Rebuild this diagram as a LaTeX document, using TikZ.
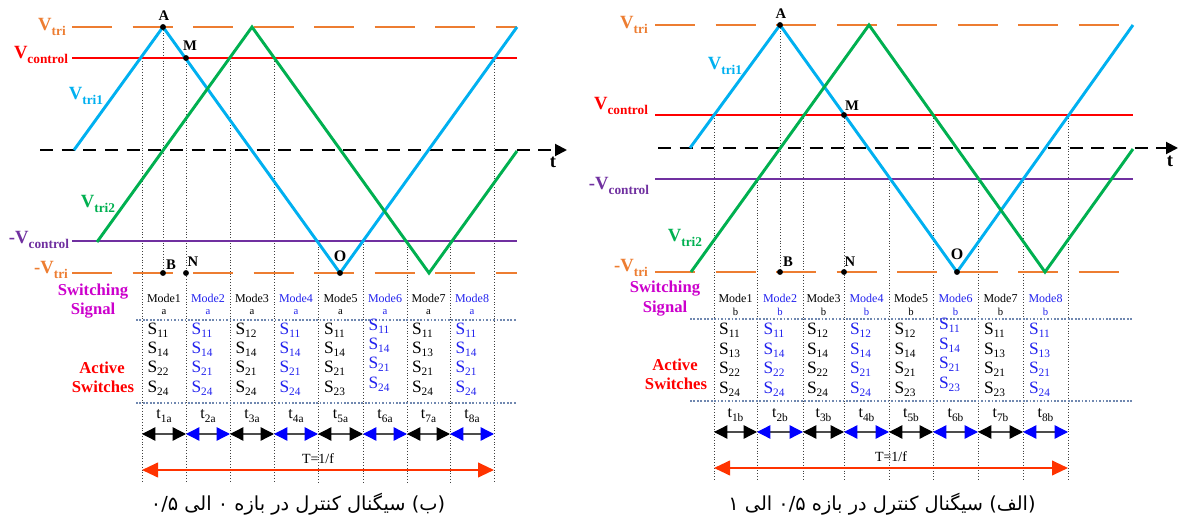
\documentclass[tikz,border=0pt]{standalone}
\usepackage{fontspec}
\setmainfont{Liberation Serif}
\newfontfamily\arabicfont[Script=Arabic]{DejaVu Sans}
\TeXXeTstate=1
\usetikzlibrary{arrows.meta}
\definecolor{ctri}{HTML}{ED7D31}
\definecolor{cred}{HTML}{FF0000}
\definecolor{cblue}{HTML}{00B0F0}
\definecolor{cgreen}{HTML}{00B050}
\definecolor{cpurple}{HTML}{7030A0}
\definecolor{cmag}{HTML}{CC00CC}
\definecolor{modeblue}{HTML}{2222EE}
\definecolor{carrow}{HTML}{FF3300}
\definecolor{crow}{HTML}{7088B0}
\newcommand{\myV}[2]{{\fontsize{14}{14}\selectfont\bfseries #1V}{\fontsize{10}{10}\selectfont\bfseries\raisebox{-3.5pt}{#2}}}
\newcommand{\myS}[1]{S{\fontsize{8.5}{8.5}\selectfont\raisebox{-2.5pt}{#1}}}
\newcommand{\myt}[1]{t{\fontsize{8.5}{8.5}\selectfont\raisebox{-2.5pt}{#1}}}
\begin{document}
\begin{tikzpicture}[x=0.75pt,y=-0.75pt,
  every node/.style={inner sep=0pt,outer sep=0pt},
  tri/.style={line width=2.2pt,line join=miter},
  orng/.style={ctri,line width=2.2pt,dash pattern=on 30pt off 15.4pt},
  ctl/.style={line width=1.5pt},
  axisline/.style={line width=1.5pt,dash pattern=on 9.75pt off 6.5pt,-{Triangle[length=9pt,width=9pt]}},
  vdot/.style={black!75,line width=0.7pt,dash pattern=on 0.7pt off 1.4pt},
  hdot/.style={crow,line width=1.3pt,dash pattern=on 1.3pt off 1.3pt},
  tarrk/.style={line width=1pt,black!70,{Triangle[length=10pt,width=10pt,color=black]}-{Triangle[length=10pt,width=10pt,color=black]}},
  tarrb/.style={line width=1pt,black!70,{Triangle[length=10pt,width=10pt,color=blue]}-{Triangle[length=10pt,width=10pt,color=blue]}},
  bigarr/.style={carrow,line width=1.5pt,{Triangle[length=12pt,width=11pt]}-{Triangle[length=12pt,width=11pt]}},
  lbl/.style={font=\fontsize{12.5}{14}\selectfont\bfseries,align=center},
  ptl/.style={font=\fontsize{11}{11}\selectfont\bfseries},
  model/.style={font=\fontsize{9}{9}\selectfont},
  model2/.style={font=\fontsize{8}{8}\selectfont},
  slbl/.style={font=\fontsize{13}{13}\selectfont},
  tlbl/.style={font=\fontsize{12}{12}\selectfont},
  dotm/.style={fill=black}
]
\useasboundingbox (0,0) rectangle (1179,520);

%================ LEFT PANEL =================
\foreach \x/\t [count=\i] in {142/58,186/58,230/58,274/58,318/241,363/241,407/241,450/241,494/58}{
  \coordinate (LV\i) at (\x,\t);
  \coordinate (LW\i) at (\x,482);
  \coordinate (LA\i) at (\x,434);
  \coordinate (LR\i) at (\x,470);
  \draw[vdot] (LV\i) -- (LW\i);
}
\coordinate (LAp) at (163,27);
\coordinate (LBp) at (163,273);
\coordinate (LMp) at (186,58);
\coordinate (LNp) at (186,273);
\coordinate (LOp) at (340,273);
\draw[vdot] (LAp) -- (LBp);
\coordinate (LH1a) at (136,320); \coordinate (LH1b) at (517,320);
\coordinate (LH2a) at (136,403); \coordinate (LH2b) at (517,403);
\draw[hdot] (LH1a) -- (LH1b);
\draw[hdot] (LH2a) -- (LH2b);

\draw[orng] (72,27) -- (517,27);
\draw[orng] (72,273) -- (517,273);
\draw[ctl,cred] (72,58) -- (517,58);
\draw[ctl,cpurple] (72,241) -- (517,241);
\draw[axisline] (40,150) -- (567,150);
\draw[tri,cblue] (74,150) -- (LAp) -- (LOp) -- (517,27);
\draw[tri,cgreen] (97,242) -- (252,27) -- (429,273) -- (517,151);

\foreach \p in {LAp,LBp,LMp,LNp,LOp} \fill[dotm] (\p) circle[radius=2.2pt];
\node[ptl] (LlA) at (164,16) {A};
\node[ptl] (LlM) at (190,46) {M};
\node[ptl] (LlB) at (171,265) {B};
\node[ptl] (LlN) at (193,262) {N};
\node[ptl,font=\fontsize{12}{12}\selectfont\bfseries] (LlO) at (340,256) {O};
\node[font=\fontsize{14}{14}\selectfont\bfseries] (Lt) at (553,162) {t};

\node[text=ctri] (LVtri) at (52,27) {\myV{}{tri}};
\node[text=cred] (LVc) at (41,55) {\myV{}{control}};
\node[text=cblue] (LVt1) at (86,96) {\myV{}{tri1}};
\node[text=cgreen] (LVt2) at (98,204) {\myV{}{tri2}};
\node[text=cpurple] (LVmc) at (39,240) {\myV{-}{control}};
\node[text=ctri] (LVmt) at (51,270) {\myV{-}{tri}};
\node[lbl,text=cmag] (LSw) at (93,292) {Switching};
\node[lbl,text=cmag] (LSg) at (93,311) {Signal};
\node[lbl,text=cred] (LAc) at (102,368) {Active};
\node[lbl,text=cred] (LAs) at (103,387) {Switches};

\foreach \xc/\cc/\n/\p/\q/\r/\s/\dy in {
  164/black/1/11/14/22/24/0,
  208/modeblue/2/11/14/21/24/0,
  252/black/3/12/14/21/24/0,
  296/modeblue/4/11/14/21/24/0,
  340.5/black/5/11/14/21/23/0,
  385/modeblue/6/11/14/21/24/-4,
  428.5/black/7/11/13/21/24/0,
  472/modeblue/8/11/14/21/24/0}{
  \node[model,text=\cc] (LM\n) at (\xc,298) {Mode\n};
  \node[model2,text=\cc] (LMs\n) at (\xc,312) {a};
  \node[slbl,text=\cc] (LS\n a) at (\xc-6,330+\dy) {\myS{\p}};
  \node[slbl,text=\cc] (LS\n b) at (\xc-6,349+\dy) {\myS{\q}};
  \node[slbl,text=\cc] (LS\n c) at (\xc-6,368+\dy) {\myS{\r}};
  \node[slbl,text=\cc] (LS\n d) at (\xc-6,388+\dy) {\myS{\s}};
  \node[tlbl] (Lt\n) at (\xc,416) {\myt{\n a}};
}
\draw[tarrk] (LA1) -- (LA2);
\draw[tarrb] (LA2) -- (LA3);
\draw[tarrk] (LA3) -- (LA4);
\draw[tarrb] (LA4) -- (LA5);
\draw[tarrk] (LA5) -- (LA6);
\draw[tarrb] (LA6) -- (LA7);
\draw[tarrk] (LA7) -- (LA8);
\draw[tarrb] (LA8) -- (LA9);
\node[font=\fontsize{10.5}{10.5}\selectfont] (LT) at (318,459) {T=1/f};
\draw[bigarr] (LR1) -- (LR9);
\node[font=\arabicfont\fontsize{14.5}{14.5}\selectfont] (capL) at (298,504) {\beginR (ب) سیگنال کنترل در بازه ۰ الی \beginL ۰/۵\endL\endR};

%================ RIGHT PANEL =================
\foreach \x/\t [count=\i] in {714/115,757/179,803/115,844/115,889/179,933/115,978/179,1023/179,1068/115}{
  \coordinate (RV\i) at (\x,\t);
  \coordinate (RW\i) at (\x,480);
  \coordinate (RA\i) at (\x,432);
  \coordinate (RR\i) at (\x,468);
  \draw[vdot] (RV\i) -- (RW\i);
}
\coordinate (RAp) at (780,25);
\coordinate (RBp) at (780,272);
\coordinate (RMp) at (844,115);
\coordinate (RNp) at (844,272);
\coordinate (ROp) at (957,272);
\draw[vdot] (RAp) -- (RBp);
\coordinate (RH1a) at (690,319); \coordinate (RH1b) at (1133,319);
\coordinate (RH2a) at (690,401); \coordinate (RH2b) at (1133,401);
\draw[hdot] (RH1a) -- (RH1b);
\draw[hdot] (RH2a) -- (RH2b);

\draw[orng] (655,25) -- (1120,25);
\draw[orng] (655,272) -- (1120,272);
\draw[ctl,cred] (655,115) -- (1133,115);
\draw[ctl,cpurple] (655,179) -- (1133,179);
\draw[axisline] (658,148) -- (1178,148);
\draw[tri,cblue] (690,148) -- (RAp) -- (ROp) -- (1133,25);
\draw[tri,cgreen] (691,272) -- (869,25) -- (1045,272) -- (1133,149);

\foreach \p in {RAp,RBp,RMp,RNp,ROp} \fill[dotm] (\p) circle[radius=2.2pt];
\node[ptl] (RlA) at (781,14) {A};
\node[ptl] (RlM) at (852,106) {M};
\node[ptl] (RlB) at (788,262) {B};
\node[ptl] (RlN) at (850,262) {N};
\node[ptl,font=\fontsize{12}{12}\selectfont\bfseries] (RlO) at (957,254) {O};
\node[font=\fontsize{14}{14}\selectfont\bfseries] (Rt) at (1170,161) {t};

\node[text=ctri] (RVtri) at (634,25) {\myV{}{tri}};
\node[text=cred] (RVc) at (621,106) {\myV{}{control}};
\node[text=cblue] (RVt1) at (725,66) {\myV{}{tri1}};
\node[text=cgreen] (RVt2) at (685,238) {\myV{}{tri2}};
\node[text=cpurple] (RVmc) at (619,186) {\myV{-}{control}};
\node[text=ctri] (RVmt) at (631,268) {\myV{-}{tri}};
\node[lbl,text=cmag] (RSw) at (665,289) {Switching};
\node[lbl,text=cmag] (RSg) at (665,309) {Signal};
\node[lbl,text=cred] (RAc) at (675,365) {Active};
\node[lbl,text=cred] (RAs) at (676,384) {Switches};

\foreach \xc/\cc/\n/\p/\q/\r/\s/\dy in {
  735.5/black/1/11/13/22/24/0,
  780/modeblue/2/11/14/22/24/0,
  823.5/black/3/12/14/22/24/0,
  866.5/modeblue/4/12/14/21/24/0,
  911/black/5/12/14/21/23/0,
  955.5/modeblue/6/11/14/21/23/-5,
  1000.5/black/7/11/13/21/23/0,
  1045.5/modeblue/8/11/13/21/24/0}{
  \node[model,text=\cc] (RM\n) at (\xc,298) {Mode\n};
  \node[model2,text=\cc] (RMs\n) at (\xc,312) {b};
  \node[slbl,text=\cc] (RS\n a) at (\xc-6,330+\dy) {\myS{\p}};
  \node[slbl,text=\cc] (RS\n b) at (\xc-6,350+\dy) {\myS{\q}};
  \node[slbl,text=\cc] (RS\n c) at (\xc-6,369+\dy) {\myS{\r}};
  \node[slbl,text=\cc] (RS\n d) at (\xc-6,389+\dy) {\myS{\s}};
  \node[tlbl] (Rt\n) at (\xc,415) {\myt{\n b}};
}
\draw[tarrk] (RA1) -- (RA2);
\draw[tarrb] (RA2) -- (RA3);
\draw[tarrk] (RA3) -- (RA4);
\draw[tarrb] (RA4) -- (RA5);
\draw[tarrk] (RA5) -- (RA6);
\draw[tarrb] (RA6) -- (RA7);
\draw[tarrk] (RA7) -- (RA8);
\draw[tarrb] (RA8) -- (RA9);
\node[font=\fontsize{10.5}{10.5}\selectfont] (RT) at (891,457) {T=1/f};
\draw[bigarr] (RR1) -- (RR9);
\node[font=\arabicfont\fontsize{14.5}{14.5}\selectfont] (capR) at (882,504) {\beginR (الف) سیگنال کنترل در بازه \beginL ۰/۵\endL{} الی ۱\endR};
\end{tikzpicture}
\end{document}
